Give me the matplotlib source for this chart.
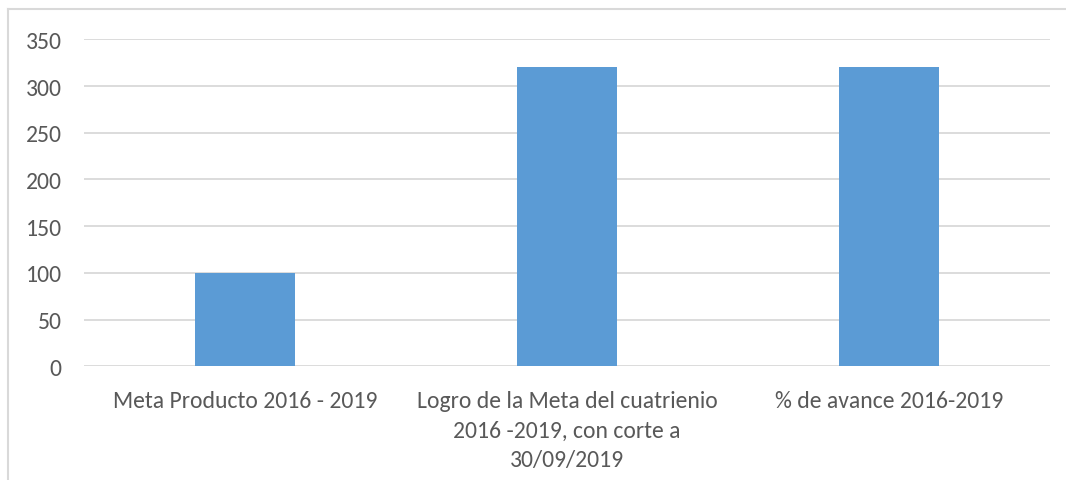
import matplotlib
matplotlib.use("Agg")
import matplotlib.pyplot as plt
from matplotlib.lines import Line2D
from matplotlib import font_manager

categories = ["Meta Producto 2016 - 2019",
              "Logro de la Meta del cuatrienio\n2016 -2019, con corte a\n30/09/2019",
              "% de avance 2016-2019"]
values = [100, 320, 320]
yticks = [0, 50, 100, 150, 200, 250, 300, 350]

names = {f.name for f in font_manager.fontManager.ttflist}
fam = [f for f in ["Carlito", "Liberation Sans Narrow", "Roboto", "DejaVu Sans"] if f in names]
plt.rcParams['font.family'] = fam

W, H = 1066, 481
fig = plt.figure(figsize=(W/100, H/100), dpi=100)
fig.lines.append(Line2D([8/W, 1.0], [(H-10)/H, (H-10)/H], transform=fig.transFigure,
                        color="#d9d9d9", linewidth=1.5))
fig.lines.append(Line2D([8/W, 8/W], [0, (H-10)/H], transform=fig.transFigure,
                        color="#d9d9d9", linewidth=1.5))
ax = fig.add_axes([84/W, (H-367.3)/H, (1050-84)/W, (367.3-40.3)/H])
x = range(len(categories))
ax.bar(x, values, width=0.31, color="#5b9bd5", zorder=3)
ax.set_xlim(-0.5, 2.5)
ax.set_ylim(0, 350)
ax.set_yticks(yticks)
ax.set_xticks(list(x))
ax.set_xticklabels(categories, linespacing=1.5)
ax.grid(axis="y", color="#d9d9d9", linewidth=1.3, zorder=0)
for s in ax.spines.values():
    s.set_visible(False)
ax.tick_params(axis="both", length=0, colors="#595959", labelsize=17)
ax.tick_params(axis="y", pad=16)
ax.tick_params(axis="x", pad=17)
fig.savefig("out.png", dpi=100)
print(fam)
